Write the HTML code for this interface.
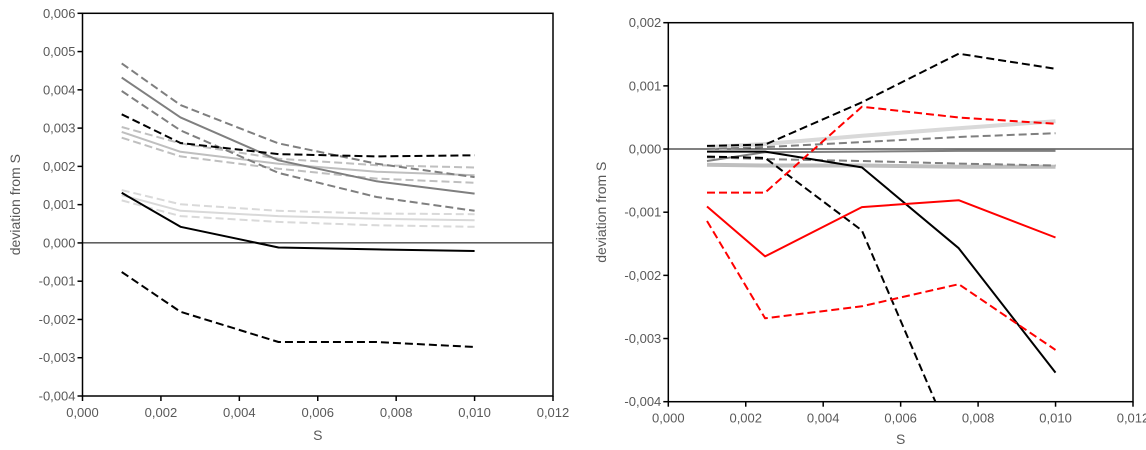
<!DOCTYPE html>
<html><head><meta charset="utf-8"><style>
html,body{margin:0;padding:0;background:#fff;width:1146px;height:450px;overflow:hidden}
svg{display:block;font-family:"Liberation Sans",sans-serif;overflow:hidden}
</style></head><body>
<svg id="chart" width="1146" height="450" viewBox="0 0 1146 450" xmlns="http://www.w3.org/2000/svg"></svg>
<script>
const xValues = [0.001, 0.0025, 0.005, 0.0075, 0.010];
const xTicks = [0, 0.002, 0.004, 0.006, 0.008, 0.010, 0.012];
const xTickLabels = ["0,000","0,002","0,004","0,006","0,008","0,010","0,012"];
const leftYTicks = [0.006,0.005,0.004,0.003,0.002,0.001,0,-0.001,-0.002,-0.003,-0.004];
const leftYTickLabels = ["0,006","0,005","0,004","0,003","0,002","0,001","0,000","-0,001","-0,002","-0,003","-0,004"];
const rightYTicks = [0.002,0.001,0,-0.001,-0.002,-0.003,-0.004];
const rightYTickLabels = ["0,002","0,001","0,000","-0,001","-0,002","-0,003","-0,004"];

// left panel series (values in units of 0.001)
const leftDarkDashUp = [4.69, 3.60, 2.60, 2.07, 1.72];
const leftDarkSolid = [4.32, 3.28, 2.16, 1.61, 1.29];
const leftDarkDashLo = [3.97, 2.94, 1.83, 1.20, 0.84];
const leftBlackDashUp = [3.36, 2.61, 2.32, 2.26, 2.29];
const leftLightDashUp = [3.03, 2.60, 2.20, 2.03, 1.97];
const leftLightSolid = [2.90, 2.38, 2.07, 1.86, 1.77];
const leftLightDashLo = [2.75, 2.26, 1.94, 1.68, 1.57];
const leftPaleDashUp = [1.38, 1.01, 0.84, 0.77, 0.75];
const leftPaleSolid = [1.25, 0.84, 0.70, 0.63, 0.59];
const leftPaleDashLo = [1.11, 0.70, 0.55, 0.46, 0.42];
const leftBlackSolid = [1.31, 0.42, -0.12, -0.17, -0.21];
const leftBlackDashLo = [-0.76, -1.80, -2.59, -2.59, -2.72];

// right panel series (values in units of 0.001)
const rightBlackDashUp = [0.05, 0.07, 0.74, 1.51, 1.27];
const rightRedDashUp = [-0.69, -0.69, 0.67, 0.50, 0.40];
const rightPaleSolidUp = [0.03, 0.08, 0.21, 0.33, 0.44];
const rightGrayDashUp = [0.00, 0.03, 0.11, 0.19, 0.25];
const rightDarkSolid = [-0.19, -0.05, -0.04, -0.03, -0.03];
const rightBlackSolid = [-0.04, -0.04, -0.29, -1.57, -3.54];
const rightBlackDashLo = [-0.12, -0.14, -1.29, -4.86, -8.0];
const rightGrayDashLo = [-0.13, -0.16, -0.19, -0.23, -0.26];
const rightPaleSolidLo = [-0.25, -0.26, -0.26, -0.28, -0.28];
const rightRedSolid = [-0.91, -1.70, -0.92, -0.81, -1.40];
const rightRedDashLo = [-1.14, -2.68, -2.49, -2.14, -3.18];

const svg = document.getElementById('chart');
const NS = 'http://www.w3.org/2000/svg';
function mk(tag, attrs, parent){const e=document.createElementNS(NS,tag);for(const k in attrs)e.setAttribute(k,attrs[k]);(parent||svg).appendChild(e);return e;}

function panel(cfg){
  const g = mk('g',{});
  
  
  const sx = v => cfg.x0 + (v - 0) / 0.012 * (cfg.x1 - cfg.x0);
  const sy = v => cfg.yTop + (cfg.yMax - v) / (cfg.yMax - cfg.yMin) * (cfg.yBot - cfg.yTop);
  const clipId = cfg.name + '-clip';
  const cp = mk('clipPath',{id:clipId},g);
  mk('rect',{x:cfg.x0,y:cfg.yTop,width:cfg.x1-cfg.x0,height:cfg.yBot-cfg.yTop},cp);
  const fr = mk('rect',{x:cfg.x0,y:cfg.yTop,width:cfg.x1-cfg.x0,height:cfg.yBot-cfg.yTop,fill:'none',stroke:'#000','stroke-width':1.5},g);
  
  
  const z = mk('line',{x1:cfg.x0,x2:cfg.x1,y1:sy(0),y2:sy(0),stroke:'#000','stroke-width':1},g);
  
  
  xTicks.forEach((t,i)=>{
    mk('line',{x1:sx(t),x2:sx(t),y1:cfg.yBot,y2:cfg.yBot+5,stroke:'#000','stroke-width':1.5},g);
    const tx = mk('text',{x:sx(t),y:cfg.yBot+21,'text-anchor':'middle','font-size':13,fill:'#595959'},g);
    tx.textContent = xTickLabels[i];
    
    
  });
  cfg.yTicks.forEach((t,i)=>{
    mk('line',{x1:cfg.x0-5,x2:cfg.x0,y1:sy(t),y2:sy(t),stroke:'#000','stroke-width':1.5},g);
    const tx = mk('text',{x:cfg.x0-7,y:sy(t)+4.5,'text-anchor':'end','font-size':13,fill:'#595959'},g);
    tx.textContent = cfg.yLabels[i];
    
    
  });
  const xt = mk('text',{x:(cfg.x0+cfg.x1)/2,y:cfg.xTitleY,'text-anchor':'middle','font-size':14,fill:'#595959'},g);
  xt.textContent = 'S';
  
  
  const ycy = (cfg.yTop+cfg.yBot)/2;
  const yt = mk('text',{x:cfg.yTitleX,y:ycy,'text-anchor':'middle','font-size':14,fill:'#595959',transform:`rotate(-90 ${cfg.yTitleX} ${ycy})`},g);
  yt.textContent = 'deviation from S';
  
  
  const lg = mk('g',{'clip-path':`url(#${clipId})`},g);
  cfg.series.forEach(s=>{
    const pts = xValues.map((x,i)=>`${sx(x).toFixed(1)},${sy(s.d[i]/1000).toFixed(1)}`).join(' ');
    const p = mk('polyline',{points:pts,fill:'none',stroke:s.c,'stroke-width':s.w||2,'stroke-dasharray':s.dash?'8,4':'none','stroke-linejoin':'round'},lg);
    
    
  });
}

const DG='#7f7f7f', LG='#bfbfbf', PG='#d9d9d9', BK='#000', RD='#ff0000';
panel({name:'left-chart',x0:82.5,x1:553,yTop:13.3,yBot:396,yMax:0.006,yMin:-0.004,
  yTicks:leftYTicks,yLabels:leftYTickLabels,xTitleY:440,yTitleX:20,
  series:[
    {n:'pale-dash-upper',d:leftPaleDashUp,c:PG,dash:1},
    {n:'pale-solid',d:leftPaleSolid,c:PG},
    {n:'pale-dash-lower',d:leftPaleDashLo,c:PG,dash:1},
    {n:'light-dash-upper',d:leftLightDashUp,c:LG,dash:1},
    {n:'light-solid',d:leftLightSolid,c:LG},
    {n:'light-dash-lower',d:leftLightDashLo,c:LG,dash:1},
    {n:'dark-dash-upper',d:leftDarkDashUp,c:DG,dash:1},
    {n:'dark-solid',d:leftDarkSolid,c:DG},
    {n:'dark-dash-lower',d:leftDarkDashLo,c:DG,dash:1},
    {n:'black-dash-upper',d:leftBlackDashUp,c:BK,dash:1},
    {n:'black-solid',d:leftBlackSolid,c:BK},
    {n:'black-dash-lower',d:leftBlackDashLo,c:BK,dash:1}
  ]});
panel({name:'right-chart',x0:668.3,x1:1133,yTop:22.7,yBot:401.7,yMax:0.002,yMin:-0.004,
  yTicks:rightYTicks,yLabels:rightYTickLabels,xTitleY:444,yTitleX:606,
  series:[
    {n:'pale-solid-upper',d:rightPaleSolidUp,c:PG,w:4},
    {n:'pale-solid-lower',d:rightPaleSolidLo,c:LG,w:4},
    {n:'gray-dash-upper',d:rightGrayDashUp,c:DG,dash:1},
    {n:'gray-dash-lower',d:rightGrayDashLo,c:DG,dash:1},
    {n:'dark-solid',d:rightDarkSolid,c:DG},
    {n:'black-dash-upper',d:rightBlackDashUp,c:BK,dash:1},
    {n:'black-dash-lower',d:rightBlackDashLo,c:BK,dash:1},
    {n:'black-solid',d:rightBlackSolid,c:BK},
    {n:'red-dash-upper',d:rightRedDashUp,c:RD,dash:1},
    {n:'red-solid',d:rightRedSolid,c:RD},
    {n:'red-dash-lower',d:rightRedDashLo,c:RD,dash:1}
  ]});
</script>
</body></html>
